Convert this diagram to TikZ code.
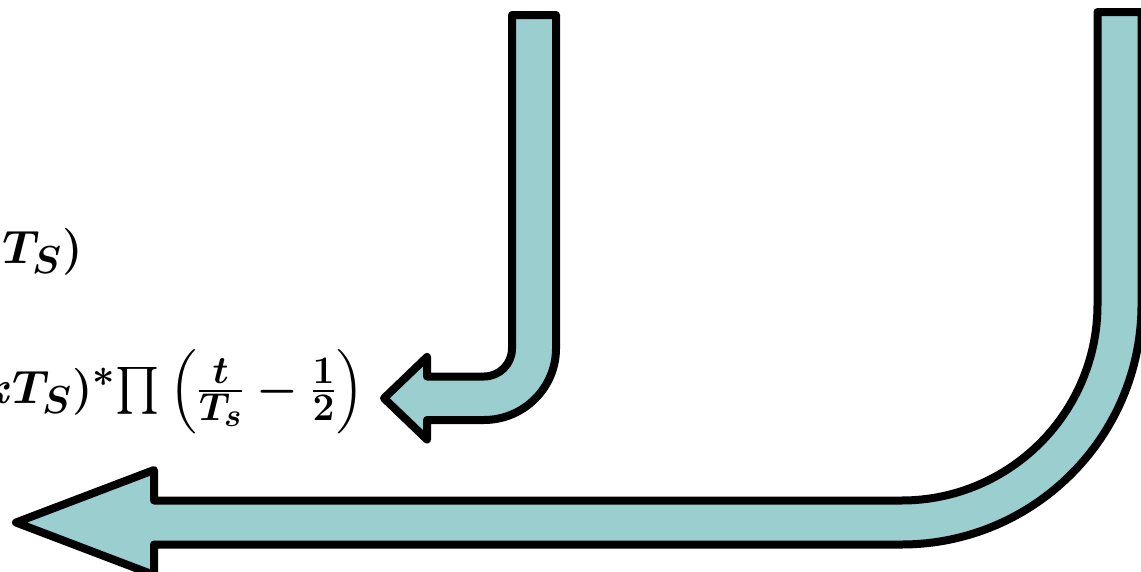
\documentclass[tikz,border=0pt]{standalone}
\usepackage{amsmath}
\usepackage{amsfonts, amssymb}
\usepackage{tikz}
\usetikzlibrary{positioning, calc}
\definecolor{arrowfill}{RGB}{155,206,207}

\begin{document}
\begin{tikzpicture}[x=0.75pt, y=-0.75pt,
  bentarrow/.style={draw=black, fill=arrowfill, line width=6pt, line join=round},
  eqtext/.style={anchor=base east, inner sep=0pt, scale=1.41, transform shape,
    font=\fontsize{24.88}{30}\selectfont\boldmath}]
  \useasboundingbox (0,0) rectangle (1141,571);
  \clip (0,0) rectangle (1141,571);
  \draw[bentarrow] (512,15) -- (512,348.5) .. controls (512,364) and (499.5,376.5) .. (484,376.5)
    -- (427,376.5) -- (427,357) -- (384,398.25) -- (427,439.5) -- (427,420) -- (484,420)
    .. controls (523.5,420) and (556,388) .. (556,348.5) -- (556,15) -- cycle;
  \draw[bentarrow] (1097.5,12) -- (1097.5,304.5) .. controls (1097.5,412.75) and (1009.75,500.5) .. (901.5,500.5)
    -- (154,500.5) -- (154,470) -- (16,522.5) -- (154,575) -- (154,544.5) -- (901.5,544.5)
    .. controls (1034,544.5) and (1141.5,437) .. (1141.5,304.5) -- (1141.5,12) -- cycle;
  \node[eqtext] (sample) at (83,263) {$kT_S)$};
  \node[eqtext] (product) at (365,403) {$kT_S)^{*}\!\prod\left(\frac{t}{T_s}-\frac{1}{2}\right)$};
\end{tikzpicture}
\end{document}
